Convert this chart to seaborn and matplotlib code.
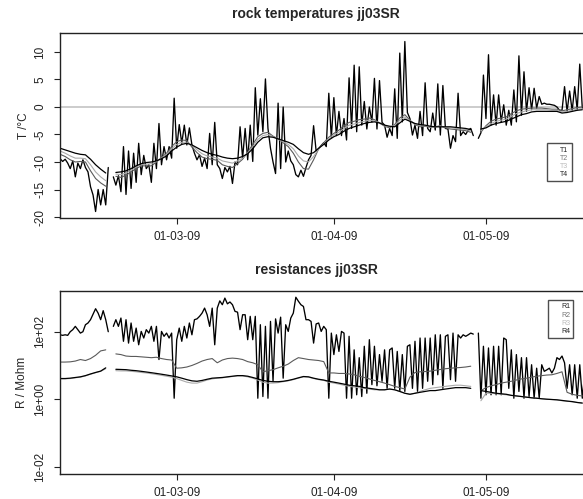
import numpy as np
import pandas as pd
import matplotlib
matplotlib.use("Agg")
import matplotlib.pyplot as plt
import matplotlib.dates as mdates
from matplotlib.lines import Line2D
import seaborn as sns

nan = np.nan
start = pd.Timestamp("2009-02-01")
# t1 / r1 every 12 h, the others once a day (days after 1 Feb)
half_days = np.arange(209) * 0.5 + 4.5
days = np.arange(5, 109)

t1 = [-9.5, -9.4, -9.9, -9.5, -10.2, -11.2, -9.8, -12.7, -10.2, -11.2,
      -9.6, -11.0, -11.8, -14.5, -16.0, -19.0, -15.0, -17.8, -15.0, -17.8,
      -11.0, nan, -12.7, -14.2, -12.5, -15.4, -7.2, -15.9, -8.0, -14.8,
      -8.4, -13.7, -6.6, -12.3, -8.8, -11.2, -10.5, -13.7, -6.6, -11.2,
      -3.0, -10.5, -7.2, -9.6, -7.2, -9.3, 1.6, -7.5, -3.2, -6.6,
      -3.3, -6.9, -3.8, -6.9, -8.4, -9.6, -8.7, -10.8, -9.3, -11.2,
      -4.8, -10.5, -2.8, -10.5, -11.2, -13.0, -11.0, -11.8, -10.8, -13.9,
      -10.0, -10.5, -3.6, -9.3, -3.9, -9.6, -3.3, -9.9, 3.5, -5.1,
      1.5, -4.5, 5.1, -3.9, -7.5, -10.0, -12.1, 0.7, -11.2, 0.0,
      -10.0, -8.0, -9.8, -10.5, -12.3, -12.7, -11.5, -12.6, -11.0, -9.6,
      -8.8, -3.4, -8.0, -7.6, -7.0, -6.5, -7.2, 2.5, -5.6, 1.7,
      -5.2, -0.8, -5.2, -2.1, -6.0, 5.3, -3.9, 7.6, -4.5, 7.3,
      -3.3, 1.0, -4.0, 0.0, -2.7, 5.2, -4.0, 4.8, -2.8, -3.3,
      -5.5, -3.9, -5.2, 3.3, -5.7, 9.8, -2.7, 11.9, -1.0, -2.1,
      -5.1, -3.3, -5.7, -0.8, -5.2, 4.4, -3.9, -4.5, -1.1, -4.2,
      4.2, -5.1, 3.9, -3.9, -4.0, -7.5, -5.2, -6.3, 2.5, -5.2,
      -4.5, -5.0, -4.2, -3.9, -5.2, nan, -5.7, -4.7, 5.8, -2.1,
      9.5, -3.3, 2.2, -3.3, 2.2, -2.7, 0.4, -3.3, -0.6, -3.3,
      3.1, -2.7, 9.3, -1.5, 6.4, -0.8, 3.5, -0.5, 3.4, -0.2,
      1.9, 0.5, 0.7, 0.5, 0.5, 0.4, 0.3, 0.0, -0.6, -0.6,
      3.7, -0.8, 2.9, -0.7, 3.7, -0.5, 7.8, -0.2, -0.5]

t2 = [-8.6, -9.0, -9.6, -10.0, -9.9, -10.0, -11.6, -13.0, -13.8, -14.4,
      nan, -12.6, -12.8, -12.4, -11.8, -11.2, -10.7, -10.7, -10.7, -10.0,
      -9.2, -8.4, -7.2, -6.3, -6.0, -6.1, -7.3, -8.3, -9.1, -9.4,
      -9.5, -9.7, -10.5, -10.8, -11.0, -10.3, -9.5, -8.2, -6.8, -5.4,
      -4.8, -4.6, -5.3, -5.8, -6.5, -7.2, -8.4, -10.0, -11.2, -11.3,
      -9.6, -7.6, -6.5, -5.5, -4.8, -4.2, -3.4, -2.8, -2.6, -2.3,
      -2.2, -2.0, -2.3, -2.9, -3.5, -3.8, -3.2, -2.0, -1.4, -2.4,
      -3.2, -3.6, -3.5, -3.7, -3.6, -3.4, -3.8, -4.0, -4.1, -4.2,
      -4.3, -4.6, nan, -4.6, -3.4, -2.6, -2.2, -2.0, -1.8, -1.2,
      -0.7, -0.4, -0.3, -0.2, -0.2, -0.2, -0.3, -0.4, -0.4, -0.7,
      -0.5, -0.3, -0.1, 0.0]

t3 = [-8.0, -8.4, -8.9, -9.3, -9.3, -9.4, -10.5, -11.8, -12.7, -13.4,
      nan, -12.2, -12.3, -12.0, -11.5, -10.9, -10.5, -10.4, -10.3, -9.9,
      -9.3, -8.6, -7.6, -6.8, -6.4, -6.4, -7.0, -7.8, -8.5, -8.9,
      -9.1, -9.3, -9.8, -10.0, -10.2, -9.8, -9.3, -8.4, -7.2, -5.9,
      -5.2, -5.0, -5.4, -5.8, -6.3, -6.8, -7.6, -8.9, -9.8, -10.0,
      -9.0, -7.6, -6.7, -5.8, -5.1, -4.6, -3.9, -3.3, -3.1, -2.8,
      -2.6, -2.4, -2.5, -2.9, -3.4, -3.6, -3.4, -2.4, -1.8, -2.5,
      -3.1, -3.4, -3.4, -3.6, -3.6, -3.5, -3.7, -3.8, -3.9, -4.0,
      -4.1, -4.3, nan, -4.3, -3.6, -3.0, -2.6, -2.4, -2.2, -1.7,
      -1.2, -0.9, -0.7, -0.5, -0.5, -0.5, -0.5, -0.6, -0.6, -0.9,
      -0.8, -0.6, -0.4, -0.3]

t4 = [-7.5, -7.8, -8.1, -8.4, -8.6, -8.7, -9.5, -10.5, -11.3, -12.0,
      nan, -11.9, -11.8, -11.6, -11.2, -10.7, -10.3, -10.1, -10.0, -9.8,
      -9.4, -8.9, -8.0, -7.3, -6.8, -6.6, -6.9, -7.4, -7.9, -8.3,
      -8.6, -8.8, -9.1, -9.3, -9.4, -9.3, -9.0, -8.5, -7.6, -6.4,
      -5.6, -5.4, -5.5, -5.8, -6.1, -6.4, -6.8, -7.6, -8.3, -8.6,
      -8.3, -7.5, -6.8, -6.0, -5.4, -5.0, -4.4, -3.9, -3.6, -3.3,
      -3.0, -2.8, -2.7, -2.9, -3.3, -3.5, -3.6, -2.9, -2.2, -2.6,
      -3.0, -3.2, -3.3, -3.5, -3.6, -3.6, -3.6, -3.6, -3.7, -3.8,
      -3.9, -4.1, nan, -4.0, -3.8, -3.3, -3.0, -2.8, -2.6, -2.2,
      -1.8, -1.4, -1.2, -0.9, -0.8, -0.8, -0.8, -0.8, -0.8, -1.1,
      -1.0, -0.8, -0.6, -0.5]

# resistances in Mohm
r1 = [81, 81, 78, 81, 78, 100, 115, 144, 115, 91,
      100, 161, 181, 227, 330, 480, 355, 227, 420, 227,
      100, nan, 144, 227, 144, 254, 52, 227, 46, 181,
      52, 128, 41, 102, 65, 115, 91, 144, 52, 144,
      15, 102, 73, 91, 65, 91, 1.07, 58, 128, 52,
      144, 65, 181, 81, 227, 240, 285, 355, 500, 318,
      144, 500, 41, 500, 820, 630, 990, 670, 760, 630,
      400, 380, 115, 318, 318, 58, 285, 58, 285, 1.07,
      161, 1.2, 144, 1.07, 202, 3.4, 240, 91, 270, 4.2,
      161, 102, 254, 355, 1050, 800, 630, 560, 227, 227,
      202, 46, 170, 181, 102, 144, 115, 1.07, 91, 21,
      81, 26, 102, 91, 1.07, 73, 1.07, 29, 1.35, 17,
      1.2, 37, 1.5, 58, 2.7, 37, 2.5, 21, 3.4, 29,
      2.1, 29, 33, 2.1, 26, 1.7, 21, 1.7, 37, 41,
      2.1, 52, 1.7, 65, 2.1, 65, 3.4, 65, 2.7, 81,
      5.3, 81, 2.1, 73, 81, 3.8, 91, 3.4, 81, 65,
      81, 73, 81, 91, 85, nan, 91, 1.07, 37, 1.35,
      33, 1.35, 37, 1.35, 37, 1.35, 65, 58, 2.1, 29,
      1.07, 21, 1.7, 17, 1.07, 17, 1.2, 10.5, 1.07, 8.3,
      1.07, 10.5, 6.7, 7.4, 8.3, 6.0, 8.3, 17, 15, 19,
      12, 2.1, 10.5, 1.35, 10.5, 1.07, 10.5, 1.07, 6.7]

r2 = [12.6, 12.6, 12.8, 13.5, 15.0, 14.0, 16, 20, 27, 29,
      nan, 22, 21, 19, 18.5, 18.5, 18, 17.5, 17, 17.5,
      16, 15, 14.5, 8.3, 8.5, 9.0, 10.0, 11.5, 13.5, 15,
      16, 12, 14.5, 16, 16.5, 16, 15, 13, 12, 10.5,
      6.5, 7, 7.5, 8.5, 9.5, 11, 14, 17, 16, 15,
      14.5, 14, 13, 6.0, 6.0, 5.8, 5.8, 5.6, 5.3, 4.8,
      4.4, 4.0, 3.6, 3.3, 3.0, 2.7, 2.4, 2.2, 2.0, 4.5,
      6.2, 6.5, 6.6, 6.8, 7.2, 7.6, 8.0, 8.3, 8.5, 8.7,
      9.0, 9.5, nan, 1.8, 2.2, 2.5, 2.7, 3.0, 3.2, 3.4,
      3.7, 4.0, 4.2, 4.5, 4.8, 5.0, 5.2, 5.3, 5.8, 6.5,
      1.6, 1.4, 1.3, 1.25]

r3 = [4.0, 4.0, 4.1, 4.3, 4.5, 4.9, 5.5, 6.1, 6.7, 8.0,
      nan, 7.0, 6.9, 6.9, 6.7, 6.5, 6.2, 6.0, 5.7, 5.4,
      5.1, 4.8, 4.5, 4.1, 3.6, 3.2, 3.0, 3.0, 3.3, 3.7,
      4.0, 4.2, 4.3, 4.5, 4.7, 4.9, 4.9, 4.6, 4.2, 3.7,
      3.2, 3.0, 3.0, 3.1, 3.3, 3.5, 3.8, 4.2, 4.6, 4.5,
      4.1, 3.8, 3.6, 3.2, 3.0, 2.8, 2.6, 2.4, 2.3, 2.2,
      2.1, 2.0, 1.9, 1.9, 1.9, 2.0, 1.9, 1.7, 1.5, 1.4,
      1.5, 1.7, 1.9, 2.1, 2.2, 2.3, 2.4, 2.5, 2.6, 2.6,
      2.5, 2.4, nan, 0.9, 1.5, 1.5, 1.45, 1.4, 1.35, 1.3,
      1.25, 1.2, 1.15, 1.1, 1.07, 1.03, 1.0, 0.98, 0.95, 0.9,
      0.87, 0.84, 0.8, 0.76]

r4 = [4.1, 4.1, 4.2, 4.4, 4.6, 5.0, 5.6, 6.2, 6.8, 8.5,
      nan, 7.7, 7.6, 7.5, 7.2, 7.0, 6.7, 6.4, 6.1, 5.8,
      5.5, 5.2, 4.9, 4.6, 4.2, 3.8, 3.5, 3.4, 3.6, 3.9,
      4.2, 4.3, 4.4, 4.6, 4.8, 5.0, 5.0, 4.8, 4.4, 4.0,
      3.6, 3.4, 3.3, 3.3, 3.4, 3.6, 3.9, 4.3, 4.7, 4.6,
      4.2, 3.9, 3.7, 3.4, 3.2, 3.0, 2.8, 2.6, 2.5, 2.4,
      2.2, 2.1, 2.0, 1.9, 1.9, 2.0, 1.9, 1.7, 1.5, 1.4,
      1.5, 1.6, 1.7, 1.8, 1.8, 1.9, 2.0, 2.1, 2.2, 2.2,
      2.2, 2.1, nan, 1.8, 1.7, 1.6, 1.5, 1.45, 1.4, 1.3,
      1.25, 1.2, 1.15, 1.1, 1.07, 1.03, 1.0, 0.98, 0.96, 0.92,
      0.88, 0.85, 0.8, 0.77]

names_t = ["T1", "T2", "T3", "T4"]
names_r = ["R1", "R2", "R3", "R4"]
colors = ["black", "#5a5a5a", "#ababab", "black"]
legend_colors = ["#222222", "#777777", "#bbbbbb", "#222222"]


def frame(offsets, values):
    offsets = np.asarray(offsets, dtype=float)
    df = pd.DataFrame({"time": start + pd.to_timedelta(offsets, unit="D"),
                       "value": values})
    # data gaps split the record into pieces
    df["seg"] = (offsets > 15).astype(int) + (offsets > 87).astype(int)
    return df.dropna()


sns.set_style("ticks")
plt.rcParams["font.family"] = ["Liberation Sans", "DejaVu Sans"]

fig = plt.figure(figsize=(5.83, 4.99), dpi=100)
ax1 = fig.add_axes([60 / 583, 1 - 218 / 499, 523 / 583, 185 / 499])
ax2 = fig.add_axes([60 / 583, 1 - 474 / 499, 523 / 583, 183.3 / 499])

ax1.axhline(0, color="#cccccc", linewidth=1.4, zorder=0)

t_sets = [(half_days, t1), (days, t2), (days, t3), (days, t4)]
r_sets = [(half_days, r1), (days, r2), (days, r3), (days, r4)]
widths = [0.95, 0.8, 0.8, 0.9]

for (x, y), c, lw in zip(t_sets, colors, widths):
    sns.lineplot(data=frame(x, y), x="time", y="value", units="seg",
                 estimator=None, color=c, linewidth=lw, ax=ax1)
for (x, y), c, lw in zip(r_sets, colors, widths):
    sns.lineplot(data=frame(x, y), x="time", y="value", units="seg",
                 estimator=None, color=c, linewidth=lw, ax=ax2)

x_lo = mdates.date2num(start + pd.Timedelta(days=4.98))
x_hi = mdates.date2num(start + pd.Timedelta(days=108.14))
ticks = [pd.Timestamp("2009-03-01"), pd.Timestamp("2009-04-01"), pd.Timestamp("2009-05-01")]

for ax in (ax1, ax2):
    ax.set_xlim(x_lo, x_hi)
    ax.set_xticks([mdates.date2num(t) for t in ticks])
    ax.xaxis.set_major_formatter(mdates.DateFormatter("%d-%m-%y"))
    ax.set_xlabel("")
    ax.tick_params(axis="both", direction="out", length=4, width=0.8,
                   colors="#222222", labelsize=8.5)
    ax.tick_params(axis="x", pad=5.5)
    ax.tick_params(axis="y", pad=6)
    ax.spines["right"].set_visible(False)
    for s in ("top", "left", "bottom"):
        ax.spines[s].set_color("#222222")
        ax.spines[s].set_linewidth(1.0)

ax1.set_ylim(-20.18, 13.45)
ax1.set_yticks([-20, -15, -10, -5, 0, 5, 10])
ax1.set_yticklabels(["-20", "-15", "-10", "-5", "0", "5", "10"], rotation=90, va="center")
ax1.set_ylabel("T /°C", fontsize=8.5)
ax1.yaxis.set_label_coords(-0.058, 0.5)

ax2.set_yscale("log")
ax2.set_ylim(10 ** -2.216, 10 ** 3.215)
ax2.set_yticks([0.01, 1, 100])
ax2.set_yticklabels(["1e-02", "1e+00", "1e+02"], rotation=90, va="center")
ax2.minorticks_off()
ax2.set_ylabel("R / Mohm", fontsize=8.5)
ax2.yaxis.set_label_coords(-0.061, 0.5)

fig.text(316 / 583, 1 - 14 / 499, "rock temperatures jj03SR", ha="center", va="center",
         fontsize=10, fontweight="bold")
fig.text(316 / 583, 1 - 270 / 499, "resistances jj03SR", ha="center", va="center",
         fontsize=10, fontweight="bold")


def text_legend(ax, names, anchor):
    handles = [Line2D([], [], linestyle="none") for _ in names]
    leg = ax.legend(handles, names, loc="upper left", bbox_to_anchor=anchor,
                    bbox_transform=fig.transFigure, fontsize=5, frameon=True,
                    fancybox=False, edgecolor="#222222", handlelength=1.2,
                    handletextpad=0.2, labelspacing=0.15, borderpad=0.5,
                    borderaxespad=0)
    leg.get_frame().set_linewidth(1.0)
    for txt, c in zip(leg.get_texts(), legend_colors):
        txt.set_color(c)


text_legend(ax1, names_t, (546.7 / 583, 1 - 143.3 / 499))
text_legend(ax2, names_r, (547.7 / 583, 1 - 300 / 499))

fig.savefig("out.png", dpi=100)
